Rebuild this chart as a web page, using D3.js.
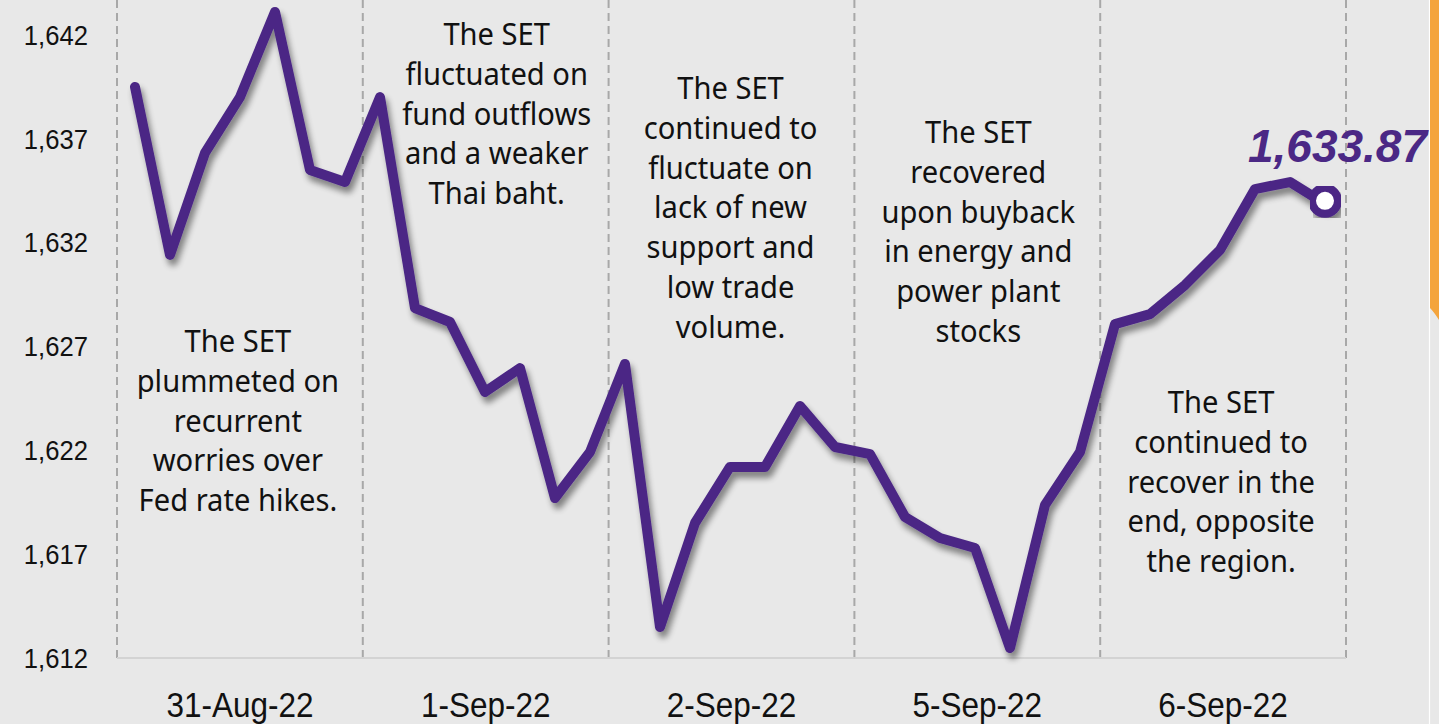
<!DOCTYPE html>
<html>
<head>
<meta charset="utf-8">
<script src="https://cdn.jsdelivr.net/npm/d3@7"></script>
<style>
  html, body { margin: 0; padding: 0; background: #e8e8e8; }
  svg { display: block; }
</style>
</head>
<body>
<svg id="chart" width="1439" height="724"></svg>
<script>
// ---- data ----
const days = ["31-Aug-22", "1-Sep-22", "2-Sep-22", "5-Sep-22", "6-Sep-22"];
const setIndex = [
  1639.50, 1631.41, 1636.32, 1639.01, 1643.11, 1635.50, 1634.92,
  1639.01, 1628.85, 1628.18, 1624.81, 1625.96, 1619.70, 1621.92,
  1626.16, 1613.49, 1618.50, 1621.20, 1621.20, 1624.13, 1622.16,
  1621.82, 1618.79, 1617.78, 1617.30, 1612.48, 1619.37, 1621.92,
  1628.08, 1628.56, 1629.96, 1631.65, 1634.58, 1634.92, 1633.87
];
const yTicks = [1612, 1617, 1622, 1627, 1632, 1637, 1642];
const notes = [
  ["The SET", "plummeted on", "recurrent", "worries over", "Fed rate hikes."],
  ["The SET", "fluctuated on", "fund outflows", "and a weaker", "Thai baht."],
  ["The SET", "continued to", "fluctuate on", "lack of new", "support and", "low trade", "volume."],
  ["The SET", "recovered", "upon buyback", "in energy and", "power plant", "stocks"],
  ["The SET", "continued to", "recover in the", "end, opposite", "the region."]
];
const noteFirstLineY = [352, 45, 99, 143, 413];
const noteDx = [-2, 11, -1, 1, -2];

// ---- layout ----
const W = 1439, H = 724;
const plotLeft = 117, plotRight = 1346, plotTop = 0, plotBottom = 658;
const purple = "#4b2885";

const svg = d3.select("#chart");
svg.append("rect").attr("width", W).attr("height", H).attr("fill", "#e8e8e8");

const defs = svg.append("defs");
const f = defs.append("filter").attr("id", "shadow")
  .attr("x", "-5%").attr("y", "-5%").attr("width", "115%").attr("height", "120%");
f.append("feGaussianBlur").attr("in", "SourceAlpha").attr("stdDeviation", 3).attr("result", "b");
f.append("feOffset").attr("in", "b").attr("dx", 3).attr("dy", 6).attr("result", "o");
f.append("feComponentTransfer").attr("in", "o").attr("result", "s")
  .append("feFuncA").attr("type", "linear").attr("slope", 0.45);
const m = f.append("feMerge");
m.append("feMergeNode").attr("in", "s");
m.append("feMergeNode").attr("in", "SourceGraphic");

// scales
const xBand = d3.scaleBand().domain(days).range([plotLeft, plotRight]).padding(0);
const xIdx = d3.scaleLinear().domain([0, setIndex.length - 1]).range([135, 1325]);
const y = d3.scaleLinear().domain([1612, 1642]).range([plotBottom, 35]);

// vertical dashed separators
const seps = days.map(d => xBand(d)).concat([plotRight]);
svg.append("g").selectAll("line").data(seps).join("line")
  .attr("x1", d => d).attr("x2", d => d)
  .attr("y1", plotTop).attr("y2", plotBottom)
  .attr("stroke", "#a8a8a8").attr("stroke-width", 2)
  .attr("stroke-dasharray", "8,5");

// baseline
svg.append("line")
  .attr("x1", plotLeft).attr("x2", plotRight)
  .attr("y1", plotBottom).attr("y2", plotBottom)
  .attr("stroke", "#d3d3d3").attr("stroke-width", 2);

// y axis
const yAxis = svg.append("g").attr("transform", `translate(${plotLeft},0)`)
  .call(d3.axisLeft(y).tickValues(yTicks).tickFormat(d3.format(",")).tickSize(0).tickPadding(29));
yAxis.select(".domain").remove();
yAxis.selectAll("text")
  .attr("font-family", "Liberation Sans, Arial, sans-serif")
  .attr("font-size", 27).attr("fill", "#111")
  .attr("dy", "0.34em")
  .attr("x", -29 / 0.95)
  .attr("transform", "scale(0.95,1)");

// x axis
const xAxis = svg.append("g").attr("transform", `translate(0,${plotBottom})`)
  .call(d3.axisBottom(xBand).tickSize(0).tickPadding(0));
xAxis.select(".domain").remove();
xAxis.selectAll(".tick text")
  .attr("font-family", "Liberation Sans, Arial, sans-serif")
  .attr("font-size", 35).attr("fill", "#111")
  .attr("y", 59).attr("dy", 0)
  .attr("transform", "scale(0.9,1)");
xAxis.selectAll(".tick").each(function(d) {
  const cx = xBand(d) + xBand.bandwidth() / 2;
  d3.select(this).attr("transform", `translate(${cx},0)`);
});

// annotations
notes.forEach((lines, i) => {
  const cx = xBand(days[i]) + xBand.bandwidth() / 2 + noteDx[i];
  const g = svg.append("g").attr("transform", `translate(${cx},${noteFirstLineY[i]}) scale(0.94,1)`);
  g.selectAll("text").data(lines).join("text")
    .attr("x", 0).attr("y", (d, k) => k * 39.8)
    .attr("text-anchor", "middle")
    .attr("font-family", "Noto Sans, Open Sans, sans-serif")
    .attr("font-size", 31).attr("fill", "#111")
    .text(d => d);
});

// line
const line = d3.line().x((d, i) => xIdx(i)).y(d => y(d));
svg.append("path").datum(setIndex)
  .attr("d", line)
  .attr("fill", "none").attr("stroke", purple)
  .attr("stroke-width", 10).attr("stroke-linejoin", "round").attr("stroke-linecap", "round")
  .attr("filter", "url(#shadow)");

// end marker
const lastI = setIndex.length - 1;
svg.append("circle")
  .attr("cx", xIdx(lastI)).attr("cy", y(setIndex[lastI]) - 3)
  .attr("r", 13).attr("fill", "#fff").attr("stroke", purple).attr("stroke-width", 8)
  .attr("filter", "url(#shadow)");

// end label
svg.append("text")
  .attr("x", 1427).attr("y", 162)
  .attr("text-anchor", "end")
  .attr("font-family", "Liberation Sans, Arial, sans-serif")
  .attr("font-weight", "bold").attr("font-style", "italic")
  .attr("font-size", 46).attr("fill", purple)
  .text(d3.format(",.2f")(setIndex[lastI]));

// right-edge orange tab
svg.append("line").attr("x1", 1429.5).attr("x2", 1429.5).attr("y1", 0).attr("y2", H)
  .attr("stroke", "#ffffff").attr("stroke-width", 1.2);
svg.append("path")
  .attr("d", "M1430,0 H1439 V320 Q1434,312 1430,308 Z")
  .attr("fill", "#f4a43c");
</script>
</body>
</html>
